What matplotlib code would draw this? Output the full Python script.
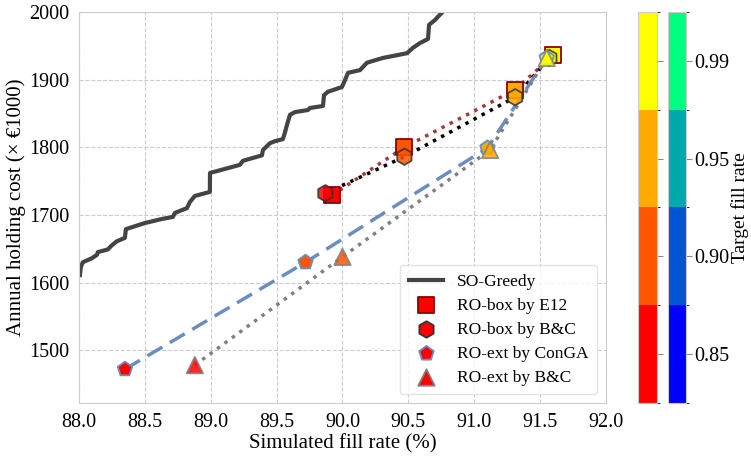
import numpy as np
import matplotlib
matplotlib.use("Agg")
import matplotlib.pyplot as plt
from matplotlib.colors import ListedColormap, BoundaryNorm
from matplotlib.colorbar import ColorbarBase

plt.rcParams['font.family'] = ['Liberation Serif', 'DejaVu Serif']
plt.rcParams['font.size'] = 14.5

# SO-Greedy frontier (fill rate %, cost)
greedy_x = [88.008, 88.015, 88.030, 88.099, 88.137, 88.144, 88.220, 88.250, 88.288, 88.349,
            88.357, 88.501, 88.630, 88.713, 88.729, 88.820, 88.842, 88.880, 88.956, 88.994,
            88.995, 89.222, 89.245, 89.389, 89.397, 89.450, 89.488, 89.548, 89.564, 89.579,
            89.602, 89.640, 89.738, 89.753, 89.852, 89.860, 89.890, 89.996, 90.019, 90.042,
            90.133, 90.186, 90.307, 90.490, 90.535, 90.588, 90.649, 90.657, 90.702, 90.725,
            90.755, 90.786]
greedy_y = [1611, 1623, 1630, 1636, 1641, 1645, 1649, 1655, 1661, 1666,
            1679, 1688, 1694, 1697, 1703, 1710, 1719, 1728, 1732, 1734,
            1762, 1774, 1780, 1788, 1796, 1806, 1809, 1812, 1822, 1833,
            1848, 1852, 1855, 1858, 1861, 1877, 1882, 1889, 1899, 1910,
            1914, 1925, 1932, 1939, 1947, 1954, 1960, 1981, 1988, 1993,
            1999, 2006]

target_rates = [0.85, 0.90, 0.95, 0.99]

box_e12_x = [89.92, 90.47, 91.31, 91.60]
box_e12_y = [1729, 1800, 1885, 1936]

box_bc_x = [89.87, 90.47, 91.31, 91.57]
box_bc_y = [1732, 1786, 1874, 1932]

ext_conga_x = [88.35, 89.72, 91.10, 91.55]
ext_conga_y = [1472, 1630, 1799, 1932]

ext_bc_x = [88.88, 90.00, 91.12, 91.55]
ext_bc_y = [1478, 1638, 1796, 1932]

autumn4 = ListedColormap(plt.get_cmap('autumn')(np.linspace(0, 1, 4)))
winter4 = ListedColormap(plt.get_cmap('winter')(np.linspace(0, 1, 4)))
norm = BoundaryNorm(np.arange(5), 4)
pt_colors = [autumn4(i) for i in range(len(target_rates))]

fig = plt.figure(figsize=(7.51, 4.59), dpi=100)
ax = fig.add_axes([0.105, 0.122, 0.702, 0.852])

ax.grid(True, linestyle='--', color='#cccccc', linewidth=0.8)
ax.set_axisbelow(True)
for s in ax.spines.values():
    s.set_color('#cccccc')
ax.tick_params(length=0, pad=7)

ax.plot(greedy_x, greedy_y, color='#444444', lw=3, label='SO-Greedy', zorder=2)
ax.plot(box_e12_x, box_e12_y, ':', color='#a33a3a', lw=2.5, zorder=2)
ax.plot(box_bc_x, box_bc_y, ':', color='black', lw=2.5, zorder=2)
ax.plot(ext_conga_x, ext_conga_y, '--', color='#6c8ebf', lw=2.5, dashes=(5, 2.5), zorder=2)
ax.plot(ext_bc_x, ext_bc_y, ':', color='grey', lw=2.5, zorder=2)

ax.scatter(box_e12_x, box_e12_y, marker='s', s=130, c=pt_colors, edgecolors='#8b0000',
           linewidths=1.3, label='RO-box by E12', zorder=3)
ax.scatter(box_bc_x, box_bc_y, marker='h', s=140, c=pt_colors, edgecolors='#333333',
           linewidths=1.3, alpha=0.85, label='RO-box by B&C', zorder=4)
ax.scatter(ext_conga_x, ext_conga_y, marker='p', s=120, c=pt_colors, edgecolors='#6c8ebf',
           linewidths=1.3, label='RO-ext by ConGA', zorder=5)
ax.scatter(ext_bc_x, ext_bc_y, marker='^', s=140, c=pt_colors, edgecolors='grey',
           linewidths=1.3, alpha=0.85, label='RO-ext by B&C', zorder=6)

ax.set_xlim(88.0, 92.0)
ax.set_ylim(1422, 2000)
ax.set_xticks(np.arange(88.0, 92.01, 0.5))
ax.set_xticklabels(['%.1f' % v for v in np.arange(88.0, 92.01, 0.5)])
ax.set_yticks([1500, 1600, 1700, 1800, 1900, 2000])
ax.set_xlabel('Simulated fill rate (%)', fontsize=15, labelpad=2)
ax.set_ylabel('Annual holding cost (× €1000)', fontsize=15, labelpad=2)

leg = ax.legend(loc='lower right', fontsize=12.5, frameon=True, borderpad=0.5,
                labelspacing=0.45)
leg.get_frame().set_edgecolor('#dddddd')
for h in leg.legend_handles[1:]:
    h.set_facecolor('red')
    h.set_alpha(1)

cax1 = fig.add_axes([0.850, 0.122, 0.025, 0.852])
cax2 = fig.add_axes([0.890, 0.122, 0.024, 0.852])
cb1 = ColorbarBase(cax1, cmap=autumn4, norm=norm, ticks=np.arange(4) + 0.5)
cb1.set_ticklabels([])
cb2 = ColorbarBase(cax2, cmap=winter4, norm=norm, ticks=np.arange(4) + 0.5)
cb2.set_ticklabels(['%.2f' % r for r in target_rates])
for cb in (cb1, cb2):
    cb.outline.set_edgecolor('#cccccc')
    cb.ax.tick_params(length=4, width=0.8, color='#888888', pad=2)
cb2.set_label('Target fill rate', fontsize=14, labelpad=1)

fig.savefig('out.png', dpi=100)
